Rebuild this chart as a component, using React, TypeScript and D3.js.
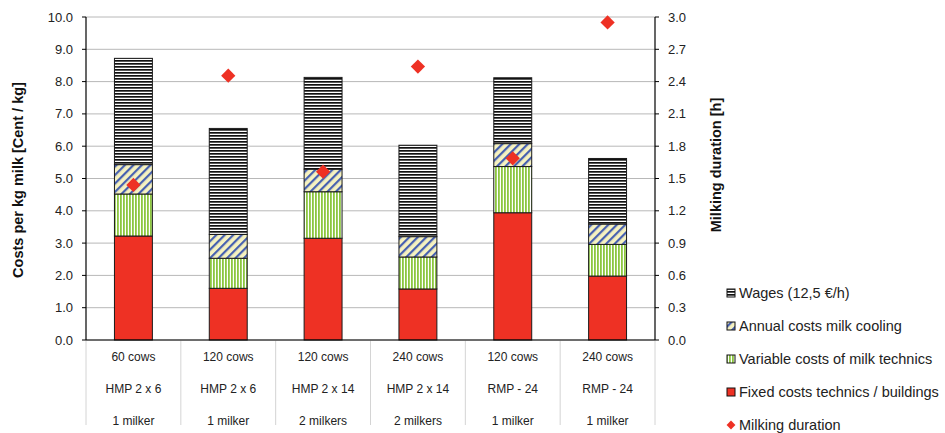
import React from "react";
import * as d3 from "d3";

const categories = ["c1", "c2", "c3", "c4", "c5", "c6"];
const labelLine1 = ["60 cows", "120 cows", "120 cows", "240 cows", "120 cows", "240 cows"];
const labelLine2 = ["HMP 2 x 6", "HMP 2 x 6", "HMP 2 x 14", "HMP 2 x 14", "RMP - 24", "RMP - 24"];
const labelLine3 = ["1 milker", "1 milker", "2 milkers", "2 milkers", "1 milker", "1 milker"];

const fixedCosts = [3.22, 1.6, 3.15, 1.58, 3.94, 1.98];
const variableCosts = [1.3, 0.93, 1.44, 0.99, 1.43, 0.98];
const coolingCosts = [0.91, 0.74, 0.7, 0.63, 0.71, 0.63];
const wages = [3.29, 3.28, 2.84, 2.83, 2.04, 2.03];
const milkingDuration = [1.44, 2.455, 1.563, 2.54, 1.687, 2.95];

const leftTicks = [0, 1, 2, 3, 4, 5, 6, 7, 8, 9, 10];
const rightTicks = [0, 0.3, 0.6, 0.9, 1.2, 1.5, 1.8, 2.1, 2.4, 2.7, 3.0];

const seriesNames = [
  "Wages (12,5 €/h)",
  "Annual costs milk cooling",
  "Variable costs of milk technics",
  "Fixed costs technics / buildings",
  "Milking duration",
];

const FONT = "'Liberation Sans', Arial, sans-serif";
const RED = "#ee3124";

export default function App() {
  const left = 86, right = 655, top = 17, bottom = 340;
  const x = d3.scaleBand<string>().domain(categories).range([left, right]).paddingInner(0.6).paddingOuter(0.3);
  const yL = d3.scaleLinear().domain([0, 10]).range([bottom, top]);
  const yR = d3.scaleLinear().domain([0, 3]).range([bottom, top]);
  const step = x.step();

  const stacks = [fixedCosts, variableCosts, coolingCosts, wages];
  const fills = ["url(#fixedP)", "url(#varP)", "url(#coolP)", "url(#wageP)"];

  const diamond = d3.symbol().type(d3.symbolDiamond2).size(130)();
  const smallDiamond = d3.symbol().type(d3.symbolDiamond2).size(50)();

  const legendFills = ["url(#wageP)", "url(#coolP)", "url(#varP)", RED];
  const legendY = [293, 326, 359, 392, 425];

  return (
    <svg width={945} height={433} style={{ position: "absolute", left: 0, top: 0, background: "#fff" }} fontFamily={FONT}>
      <defs>
        <pattern id="wageP" patternUnits="userSpaceOnUse" width={4} height={3}>
          <rect width={4} height={3} fill="#fff" />
          <rect y={0} width={4} height={1.7} fill="#111" />
        </pattern>
        <pattern id="coolP" patternUnits="userSpaceOnUse" width={6} height={6} patternTransform="rotate(45)">
          <rect width={6} height={6} fill="#f6f2c0" />
          <rect x={0} width={2.2} height={6} fill="#4660b0" />
        </pattern>
        <pattern id="varP" patternUnits="userSpaceOnUse" width={3} height={4}>
          <rect width={3} height={4} fill="#fff" />
          <rect x={0} width={1.8} height={4} fill="#8cc63f" />
        </pattern>
        <pattern id="fixedP" patternUnits="userSpaceOnUse" width={4} height={4}>
          <rect width={4} height={4} fill={RED} />
        </pattern>
      </defs>

      {/* gridlines */}
      {leftTicks.map((t) => (
        <line key={"g" + t} x1={left} x2={right} y1={yL(t)} y2={yL(t)} stroke="#b8b8b8" strokeWidth={1} />
      ))}

      {/* category separators below axis */}
      {d3.range(categories.length + 1).map((i) => (
        <line key={"s" + i} x1={left + i * step} x2={left + i * step} y1={bottom} y2={425} stroke="#d4d4d4" strokeWidth={1} />
      ))}

      {/* bars */}
      {categories.map((c, i) => {
        let acc = 0;
        return (
          <g key={c}>
            {stacks.map((s, k) => {
              const y0 = acc;
              const y1 = acc + s[i];
              acc = y1;
              return (
                <rect
                  key={k}
                  x={x(c)}
                  y={yL(y1)}
                  width={x.bandwidth()}
                  height={yL(y0) - yL(y1)}
                  fill={fills[k]}
                  stroke="#1a1a1a"
                  strokeWidth={1}
                />
              );
            })}
          </g>
        );
      })}

      {/* diamonds */}
      {categories.map((c, i) => (
        <path
          key={"d" + c}
          d={diamond!}
          transform={`translate(${x(c)! + x.bandwidth() / 2},${yR(milkingDuration[i])})`}
          fill={RED}
        />
      ))}

      {/* axes lines */}
      <line x1={left} x2={left} y1={top} y2={bottom} stroke="#000" strokeWidth={1.2} />
      <line x1={right} x2={right} y1={top} y2={bottom} stroke="#000" strokeWidth={1.2} />
      <line x1={left} x2={right} y1={bottom} y2={bottom} stroke="#000" strokeWidth={1.2} />

      {/* left ticks */}
      {leftTicks.map((t) => (
        <g key={"lt" + t}>
          <line x1={left - 4} x2={left} y1={yL(t)} y2={yL(t)} stroke="#000" />
          <text x={73} y={yL(t)} dy="0.35em" textAnchor="end" fontSize={13} fill="#222">
            {t.toFixed(1)}
          </text>
        </g>
      ))}
      {/* right ticks */}
      {rightTicks.map((t) => (
        <g key={"rt" + t}>
          <line x1={right} x2={right + 4} y1={yR(t)} y2={yR(t)} stroke="#000" />
          <text x={668} y={yR(t)} dy="0.35em" textAnchor="start" fontSize={13} fill="#222">
            {t.toFixed(1)}
          </text>
        </g>
      ))}

      {/* category labels */}
      {categories.map((c, i) => {
        const cx = x(c)! + x.bandwidth() / 2;
        return (
          <g key={"cl" + c} fontSize={12} fill="#222" textAnchor="middle">
            <text x={cx} y={357} dy="0.35em">{labelLine1[i]}</text>
            <text x={cx} y={389} dy="0.35em">{labelLine2[i]}</text>
            <text x={cx} y={421} dy="0.35em">{labelLine3[i]}</text>
          </g>
        );
      })}

      {/* axis titles */}
      <text
        transform={`translate(18,180) rotate(-90)`}
        textAnchor="middle"
        dy="0.35em"
        fontSize={14.5}
        fontWeight="bold"
        fill="#111"
      >
        Costs per kg milk [Cent / kg]
      </text>
      <text
        transform={`translate(716,165) rotate(-90)`}
        textAnchor="middle"
        dy="0.35em"
        fontSize={14.5}
        fontWeight="bold"
        fill="#111"
      >
        Milking duration [h]
      </text>

      {/* legend */}
      {seriesNames.map((n, i) => (
        <g key={"lg" + i}>
          {i < 4 ? (
            <rect x={727} y={legendY[i] - 4} width={8} height={8} fill={legendFills[i]} stroke="#111" strokeWidth={1} />
          ) : (
            <path d={smallDiamond!} transform={`translate(731,${legendY[i]})`} fill={RED} />
          )}
          <text x={739} y={legendY[i]} dy="0.35em" fontSize={14.5} fill="#222">
            {n}
          </text>
        </g>
      ))}
    </svg>
  );
}
